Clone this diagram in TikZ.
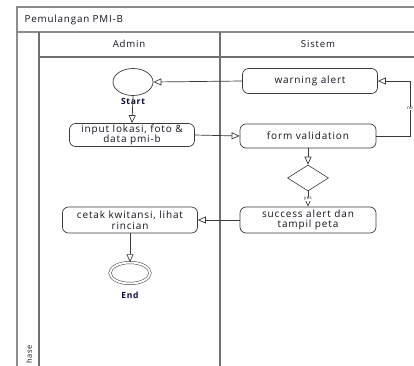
\documentclass[tikz,border=0pt]{standalone}
\usepackage{fontspec}
\setmainfont{Open Sans}[LetterSpace=8.5]
\usetikzlibrary{shapes.geometric,arrows.meta}
\definecolor{framegray}{HTML}{8C8C8C}
\definecolor{linegray}{HTML}{3A3A3A}
\definecolor{textdark}{HTML}{141420}
\tikzset{
  pool/.style={draw=framegray, line width=1.3pt},
  lane/.style={draw=framegray!80!black, line width=1.1pt},
  action/.style={draw=linegray, line width=0.7pt, rounded corners=6pt, align=center,
    font=\fontsize{10}{10.5}\selectfont, text=textdark, inner sep=1pt},
  startstate/.style={draw=linegray, line width=0.7pt, ellipse, minimum width=40pt, minimum height=27pt},
  endstate/.style={draw=linegray, line width=0.5pt, double=white, double distance=2pt,
    ellipse, minimum width=40pt, minimum height=21pt},
  decision/.style={draw=linegray, line width=0.6pt, diamond, aspect=1.55, minimum width=41pt, minimum height=26pt, inner sep=0pt},
  flow/.style={draw=linegray, line width=0.7pt, -{Triangle[open, length=8pt, width=7pt]}},
  lbl/.style={font=\fontsize{9.6}{10}\selectfont, text=textdark},
  statelbl/.style={font=\fontsize{8.5}{9}\selectfont\bfseries, text=textdark!70!blue!60!black},
  tiny/.style={font=\fontsize{4.5}{5}\selectfont, text=textdark, fill=white, inner sep=0.5pt}
}
\begin{document}
\begin{tikzpicture}[x=1pt,y=-1pt]
  \useasboundingbox (0,0) rectangle (414,365);
  \fill[white] (0,0) rectangle (414,365);

  % pool frame, title bar and phase column
  \draw[pool] (440,7) -- (17,7) -- (17,380);
  \draw[pool] (17,32) -- (440,32);
  \draw[lane] (39,32) -- (39,380);
  \draw[lane] (39,57) -- (440,57);
  \draw[lane] (220,32) -- (220,380);
  \node[lbl, anchor=west, font=\fontsize{9.8}{10}\selectfont] (title) at (21,20) {Pemulangan PMI-B};
  \node[lbl, rotate=90, anchor=west, font=\fontsize{7.5}{8}\selectfont, inner sep=0pt] (phase) at (29,364) {hase};

  % lane headers
  \node[lbl] (admin) at (129,44) {Admin};
  \node[lbl] (sistem) at (318,44) {Sistem};

  % activity nodes
  \node[startstate] (start) at (133,82) {};
  \node[statelbl] (startlbl) at (133,101) {Start};
  \node[action, minimum width=135pt, minimum height=25pt] (warn) at (310,81) {warning alert};
  \node[action, minimum width=125pt, minimum height=23pt] (input) at (132,135) {input lokasi, foto \&\\data pmi-b};
  \node[action, minimum width=136pt, minimum height=24pt] (valid) at (308,136) {form validation};
  \node[decision] (dec) at (308,178) {};
  \node[action, minimum width=136pt, minimum height=26pt] (success) at (308,220) {success alert dan\\tampil peta};
  \node[action, minimum width=135pt, minimum height=26pt] (cetak) at (130,220) {cetak kwitansi, lihat\\rincian};
  \node[endstate] (end) at (130,273) {};
  \node[statelbl] (endlbl) at (130,295) {End};

  % control flows
  \coordinate (loopA) at (410,136);
  \coordinate (loopB) at (410,81);
  \draw[flow] (warn.west) -- (start.east);
  \draw[flow] (start.south) -- (input.north);
  \draw[flow] (input.east) -- (valid.west);
  \draw[flow] (valid.south) -- (dec.north);
  \draw[flow] (valid.east) -- (loopA) -- node[tiny, pos=0.5] (nolbl) {no} (loopB) -- (warn.east);
  \draw[flow] (dec.south) -- node[tiny, pos=0.5] (yeslbl) {yes} (success.north);
  \draw[flow] (success.west) -- (cetak.east);
  \draw[flow] (cetak.south) -- (end.north);
\end{tikzpicture}
\end{document}
